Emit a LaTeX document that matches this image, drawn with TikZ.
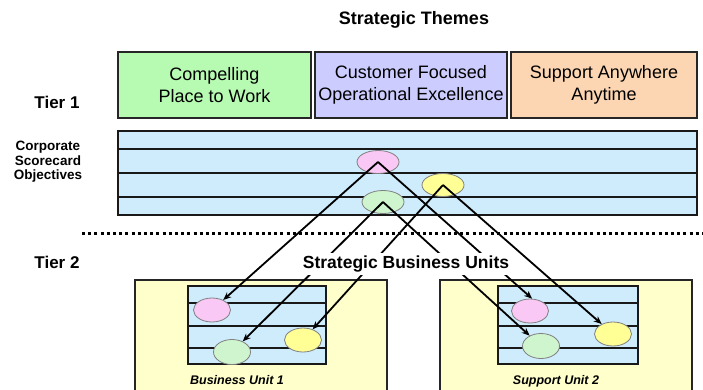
\documentclass[tikz,border=0pt]{standalone}
\usepackage{fontspec}
\setmainfont{Liberation Sans}
\usepackage{xcolor}
\usepackage{tikz}
\usetikzlibrary{arrows.meta, positioning, shapes.geometric}

\definecolor{themegreen}{RGB}{183,250,178}
\definecolor{themeblue}{RGB}{204,204,255}
\definecolor{themeorange}{RGB}{252,214,178}
\definecolor{bandblue}{RGB}{206,236,252}
\definecolor{unityellow}{RGB}{255,255,204}
\definecolor{objpink}{RGB}{250,200,245}
\definecolor{objyellow}{RGB}{255,255,150}
\definecolor{objgreen}{RGB}{206,245,206}

\begin{document}
\begin{tikzpicture}[x=1pt,y=-1pt,
  themebox/.style={draw=black!85,line width=1.8pt,minimum height=66pt,
    align=center,inner sep=0pt,font=\fontsize{18}{22}\selectfont},
  band/.style={draw=black!90,line width=1.9pt,fill=bandblue,inner sep=0pt},
  bandline/.style={draw=black!90,line width=1.9pt},
  unitbox/.style={draw=black!85,line width=1.6pt,fill=unityellow,inner sep=0pt},
  obj/.style={ellipse,draw=black!50,line width=0.8pt,inner sep=0pt,minimum width=42pt,minimum height=23pt},
  subobj/.style={obj,minimum width=37pt,minimum height=24pt},
  link/.style={line width=1.8pt,-{Stealth[length=8pt,width=6.5pt]}},
  tierlabel/.style={font=\bfseries\fontsize{17}{20}\selectfont},
  unitlabel/.style={font=\bfseries\itshape\fontsize{12.5}{15}\selectfont}]
\useasboundingbox (0,0) rectangle (703,389);

\node[font=\bfseries\fontsize{18}{21}\selectfont] (title) at (414,20) {Strategic Themes};
\node[themebox,fill=themegreen,minimum width=193pt] (place) at (214.5,85) {Compelling\\Place to Work};
\node[themebox,fill=themeblue,minimum width=192pt] (excel) at (411,85) {Customer Focused\\Operational Excellence};
\node[themebox,fill=themeorange,minimum width=186pt] (anytime) at (604,85) {Support Anywhere\\Anytime};
\node[tierlabel] (tierA) at (57,102) {Tier 1};

\node[align=center,font=\bfseries\fontsize{13.5}{14.5}\selectfont] (corplabel) at (48,162) {Corporate\\Scorecard\\Objectives};
\node[band,minimum width=579pt,minimum height=84pt] (corpband) at (407.5,173) {};
\draw[bandline] (corpband.west |- 0,149) -- (corpband.east |- 0,149);
\draw[bandline] (corpband.west |- 0,173) -- (corpband.east |- 0,173);
\draw[bandline] (corpband.west |- 0,197) -- (corpband.east |- 0,197);

\draw[line width=3pt,dash pattern=on 3pt off 3.2pt] (82,233) -- (703,233);
\node[tierlabel] (tierB) at (57,262) {Tier 2};

\node[unitbox,minimum width=252pt,minimum height=116pt] (unitA) at (261,338) {};
\node[unitbox,minimum width=252pt,minimum height=116pt] (unitB) at (566,338) {};
\node[band,minimum width=138pt,minimum height=78pt] (bandA) at (257,325) {};
\node[band,minimum width=140pt,minimum height=78pt] (bandB) at (568,325) {};
\draw[bandline] (bandA.west |- 0,303) -- (bandA.east |- 0,303);
\draw[bandline] (bandA.west |- 0,326) -- (bandA.east |- 0,326);
\draw[bandline] (bandA.west |- 0,348) -- (bandA.east |- 0,348);
\draw[bandline] (bandB.west |- 0,303) -- (bandB.east |- 0,303);
\draw[bandline] (bandB.west |- 0,326) -- (bandB.east |- 0,326);
\draw[bandline] (bandB.west |- 0,348) -- (bandB.east |- 0,348);
\node[unitlabel] (unitAlabel) at (237,380) {Business Unit 1};
\node[unitlabel] (unitBlabel) at (556,381) {Support Unit 2};

\node[obj,fill=objpink] (pinkT) at (378,162) {};
\node[obj,fill=objyellow] (yellowT) at (443,185) {};
\node[obj,fill=objgreen] (greenT) at (383,202) {};
\node[subobj,fill=objpink] (pinkA) at (212,310) {};
\node[subobj,fill=objgreen,minimum height=25pt] (greenA) at (232,352) {};
\node[subobj,fill=objyellow] (yellowA) at (303,340) {};
\node[subobj,fill=objpink] (pinkB) at (530,311) {};
\node[subobj,fill=objgreen,minimum height=25pt] (greenB) at (541,346) {};
\node[subobj,fill=objyellow] (yellowB) at (613,334) {};

\draw[link] (pinkT.center) -- (pinkA);
\draw[link] (pinkT.center) -- (pinkB.80);
\draw[link] (greenT.center) -- (greenA);
\draw[link] (greenT.center) -- (greenB);
\draw[link] (yellowT.center) -- (yellowA);
\draw[link] (yellowT.center) -- (yellowB);

\node[fill=white,inner sep=2.5pt,font=\bfseries\fontsize{17.5}{20}\selectfont] (sbu) at (406,264) {Strategic Business Units};
\end{tikzpicture}
\end{document}
